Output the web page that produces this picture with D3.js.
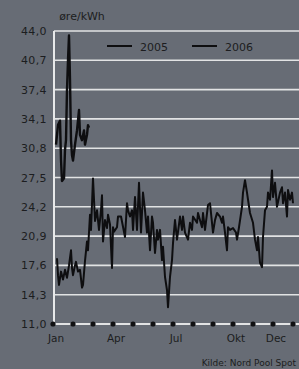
<!DOCTYPE html>
<html><head><meta charset="utf-8">
<script src="https://cdn.jsdelivr.net/npm/d3@7"></script>
<style>
html,body{margin:0;padding:0;background:#676c75;}
svg{display:block;}
text{font-family:"DejaVu Sans",sans-serif;fill:#1c1d20;}
</style></head><body>
<svg id="c" width="299" height="369"></svg>
<script>
// ---- data ----
const yTickValues = [11.0,14.3,17.6,20.9,24.2,27.5,30.8,34.1,37.4,40.7,44.0];
const yTickLabels = ["11,0","14,3","17,6","20,9","24,2","27,5","30,8","34,1","37,4","40,7","44,0"];
const monthTicks = [0,1,2,3,4,5,6,7,8,9,10,11,12];
const monthLabelPos = [0,3,6,9,11];
const monthLabels = ["Jan","Apr","Jul","Okt","Dec"];
const seriesNames = ["2005","2006"];

// positions in months since 1 Jan, values in øre/kWh
const t2005 = [0.20,0.25,0.30,0.40,0.50,0.60,0.70,0.80,0.90,0.95,1.00,1.10,1.15,1.25,1.35,1.45,1.50,1.60,1.70,1.75,1.85,1.90,2.00,2.10,2.20,2.30,2.40,2.45,2.50,2.60,2.70,2.75,2.85,2.95,
3.00,3.05,3.20,3.25,3.40,3.60,3.70,3.75,3.85,3.95,4.00,4.10,4.20,4.30,4.40,4.50,4.60,4.70,4.75,4.85,4.95,5.00,5.10,5.20,5.25,5.35,5.45,5.50,5.60,5.70,5.75,5.85,5.95,
6.00,6.10,6.20,6.35,6.45,6.50,6.60,6.75,6.85,6.95,7.00,7.20,7.25,7.45,7.50,7.60,7.75,7.85,7.95,8.00,8.10,8.20,8.35,8.45,8.50,8.60,8.70,8.75,8.85,
9.00,9.15,9.20,9.30,9.45,9.50,9.60,9.70,9.75,9.85,10.00,10.10,10.20,10.25,10.35,10.45,10.50,10.60,10.70,10.75,10.85,10.95,11.00,11.10,11.20,11.35,11.45,11.50,11.60,11.70,11.75,11.85,11.95,12.00];
const v2005 = [18.4,16.5,15.4,16.9,16.0,17.1,16.2,17.6,19.3,17.3,16.5,17.6,18.0,16.9,17.1,15.1,15.4,18.1,20.3,19.3,23.3,21.6,27.4,22.6,23.8,21.6,23.8,25.5,20.3,22.7,21.8,23.3,22.2,17.3,
21.9,21.4,21.9,23.1,23.1,20.8,24.6,23.8,23.1,23.8,21.6,25.3,21.6,26.9,21.3,25.8,23.8,21.3,23.1,19.3,23.1,22.4,19.0,21.6,20.5,21.6,18.2,19.7,16.3,14.8,12.9,16.3,18.2,
20.1,22.7,20.5,23.1,21.6,23.1,21.3,20.5,22.4,21.6,23.1,22.4,23.5,21.9,23.5,21.6,24.4,24.6,22.4,21.3,22.7,23.5,23.1,22.4,23.1,21.3,19.3,21.9,21.6,
21.8,21.3,20.5,21.9,24.2,25.8,27.2,25.8,25.0,23.5,22.4,20.5,19.3,20.8,17.9,17.4,20.8,23.8,24.2,25.8,25.0,28.3,25.3,26.9,24.2,25.8,26.4,24.6,25.8,23.1,26.1,25.0,25.8,24.6];

const t2006 = [0.15,0.25,0.35,0.40,0.45,0.55,0.60,0.65,0.70,0.75,0.80,0.85,0.90,0.95,1.00,1.10,1.20,1.30,1.35,1.45,1.55,1.60,1.70,1.75,1.80];
const v2006 = [31.2,33.4,33.9,29.5,27.1,27.4,30.6,31.7,37.4,40.7,43.5,38.5,31.7,30.0,29.4,31.2,32.8,35.1,32.3,31.7,32.8,31.2,32.3,33.4,33.1];

// ---- chart ----
const svg = d3.select("#c");
const x = d3.scaleLinear().domain([0,12]).range([53,293]);
const y = d3.scaleLinear().domain([11,44]).range([324,31]);
const W = 299;

// gridlines
svg.append("g").selectAll("line").data(yTickValues.slice(1)).join("line")
  .attr("x1", 54).attr("x2", W+2)
  .attr("y1", d=>y(d)).attr("y2", d=>y(d))
  .attr("stroke", "#e2e3e4").attr("stroke-width", 1.6);

// y axis labels
const yAxis = d3.axisLeft(y).tickValues(yTickValues)
  .tickFormat((d,i)=>yTickLabels[i]).tickSize(0).tickPadding(0);
const gy = svg.append("g").attr("transform","translate(47,0)").call(yAxis);
gy.select(".domain").remove();
gy.selectAll("text").attr("font-size", 11).attr("font-family","DejaVu Sans").attr("fill","#1c1d20")
  .attr("letter-spacing", 0.4);

// y axis line
svg.append("line").attr("x1",54).attr("x2",54).attr("y1",y(44)).attr("y2",y(11))
  .attr("stroke","#e8e9ea").attr("stroke-width",2);

// x axis line
svg.append("line").attr("x1",53).attr("x2",W+2).attr("y1",y(11)).attr("y2",y(11))
  .attr("stroke","#e2e3e4").attr("stroke-width",1.8);

// month dots
svg.append("g").selectAll("circle").data(monthTicks).join("circle")
  .attr("cx", d=>x(d)).attr("cy", y(11)).attr("r", 2.6).attr("fill","#101012");

// month labels
svg.append("g").selectAll("text").data(monthLabelPos).join("text")
  .attr("x", d=>x(d)+3).attr("y", 342).attr("text-anchor","middle")
  .attr("font-size", 10.5).text((d,i)=>monthLabels[i]);

// lines
const line = d3.line().x(d=>x(d[0])).y(d=>y(d[1]));
const d2005 = t2005.map((t,i)=>[t, v2005[i]]);
const d2006 = t2006.map((t,i)=>[t, v2006[i]]);
svg.append("path").datum(d2005).attr("d", line).attr("fill","none")
  .attr("stroke","#0e0e10").attr("stroke-width",2).attr("stroke-linejoin","round");
svg.append("path").datum(d2006).attr("d", line).attr("fill","none")
  .attr("stroke","#0e0e10").attr("stroke-width",2.4).attr("stroke-linejoin","round");

// unit label
svg.append("text").attr("x", 82).attr("y", 20).attr("text-anchor","middle")
  .attr("font-size", 11).text("øre/kWh");

// legend
const leg = svg.append("g").selectAll("g").data(seriesNames).join("g")
  .attr("transform",(d,i)=>`translate(${107 + i*85},46)`);
leg.append("line").attr("x1",0).attr("x2",25).attr("y1",0).attr("y2",0)
  .attr("stroke","#0e0e10").attr("stroke-width",2);
leg.append("text").attr("x",33).attr("y",5).attr("font-size",11).text(d=>d);

// source
svg.append("text").attr("x",296).attr("y",366).attr("text-anchor","end")
  .attr("font-size",9).text("Kilde: Nord Pool Spot");
</script>
</body></html>
